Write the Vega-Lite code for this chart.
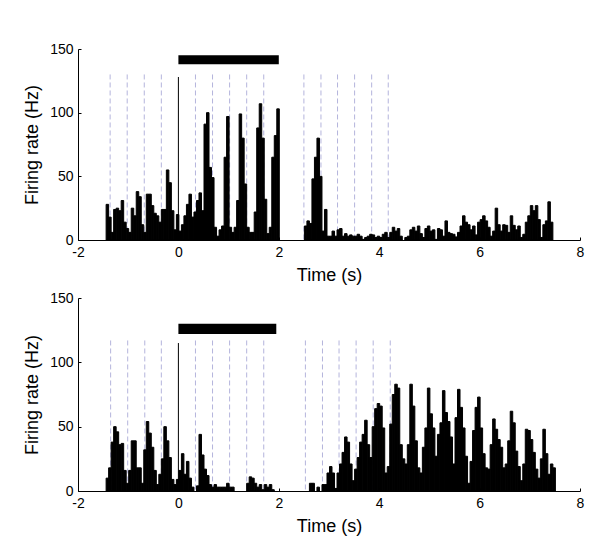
{
  "$schema": "https://vega.github.io/schema/vega-lite/v6.json",
  "padding": {"left": 23, "top": 42, "right": 10, "bottom": 10},
  "bounds": "flush",
  "spacing": 58,
  "config": {
    "view": {"stroke": null},
    "font": "Liberation Sans",
    "axis": {
      "grid": false, "domainColor": "black", "domainWidth": 1, "tickColor": "black", "tickSize": -3, "tickWidth": 1,
      "labelPadding": 8, "labelFontSize": 14, "labelColor": "black", "labelFont": "Liberation Sans", "labelFlush": false,
      "titleFontSize": 18, "titleFontWeight": "normal", "titleColor": "black", "titleFont": "Liberation Sans"
    },
    "axisX": {"titlePadding": 7},
    "axisY": {"titlePadding": 8}
  },
  "datasets": {
    "topBars": [
      {"t":-1.45,"r":28},{"t":-1.4,"r":18},{"t":-1.35,"r":6},{"t":-1.3,"r":24},{"t":-1.25,"r":25},{"t":-1.2,"r":23},{"t":-1.15,"r":31},{"t":-1.1,"r":14},{"t":-1.05,"r":9},{"t":-1.0,"r":6},
      {"t":-0.95,"r":25},{"t":-0.9,"r":19},{"t":-0.85,"r":38},{"t":-0.8,"r":34},{"t":-0.75,"r":12},{"t":-0.7,"r":6},{"t":-0.65,"r":36},{"t":-0.6,"r":36},{"t":-0.55,"r":27},{"t":-0.5,"r":21},
      {"t":-0.45,"r":19},{"t":-0.4,"r":14},{"t":-0.35,"r":24},{"t":-0.3,"r":24},{"t":-0.25,"r":55},{"t":-0.2,"r":45},{"t":-0.15,"r":23},{"t":-0.1,"r":8},{"t":-0.05,"r":20},
      {"t":0,"r":7},{"t":0.05,"r":12},{"t":0.1,"r":19},{"t":0.15,"r":28},{"t":0.2,"r":36},{"t":0.25,"r":18},{"t":0.3,"r":22},{"t":0.35,"r":31},{"t":0.4,"r":37},{"t":0.45,"r":23},
      {"t":0.5,"r":91},{"t":0.55,"r":100},{"t":0.6,"r":57},{"t":0.65,"r":49},{"t":0.7,"r":10},{"t":0.75,"r":3},{"t":0.8,"r":8},{"t":0.85,"r":11},{"t":0.9,"r":65},{"t":0.95,"r":97},
      {"t":1.0,"r":10},{"t":1.05,"r":6},{"t":1.1,"r":10},{"t":1.15,"r":31},{"t":1.2,"r":99},{"t":1.25,"r":80},{"t":1.3,"r":44},{"t":1.35,"r":10},{"t":1.4,"r":6},{"t":1.45,"r":6},
      {"t":1.5,"r":22},{"t":1.55,"r":88},{"t":1.6,"r":107},{"t":1.65,"r":80},{"t":1.7,"r":32},{"t":1.75,"r":5},{"t":1.8,"r":10},{"t":1.85,"r":65},{"t":1.9,"r":82},{"t":1.95,"r":103},
      {"t":2.5,"r":11},{"t":2.55,"r":15},{"t":2.6,"r":13},{"t":2.65,"r":48},{"t":2.7,"r":65},{"t":2.75,"r":80},{"t":2.8,"r":50},{"t":2.85,"r":7},{"t":2.9,"r":24},{"t":2.95,"r":3},
      {"t":3.0,"r":3},{"t":3.05,"r":7},{"t":3.1,"r":3},{"t":3.15,"r":8},{"t":3.2,"r":9},{"t":3.25,"r":3},{"t":3.3,"r":5},{"t":3.35,"r":3},{"t":3.4,"r":4},
      {"t":3.45,"r":3},{"t":3.5,"r":3},{"t":3.55,"r":4.5},{"t":3.6,"r":3},{"t":3.65,"r":0.5},{"t":3.7,"r":2},{"t":3.75,"r":3},{"t":3.8,"r":4.5},{"t":3.85,"r":4},{"t":3.9,"r":2},
      {"t":3.95,"r":3},{"t":4.0,"r":2},{"t":4.05,"r":4.5},{"t":4.1,"r":6},{"t":4.15,"r":2},{"t":4.2,"r":6},{"t":4.25,"r":10},{"t":4.3,"r":7},{"t":4.35,"r":9},{"t":4.4,"r":3},
      {"t":4.5,"r":2},{"t":4.55,"r":3},{"t":4.6,"r":8},{"t":4.65,"r":10},{"t":4.7,"r":7},{"t":4.75,"r":11},{"t":4.8,"r":5},{"t":4.85,"r":2},{"t":4.9,"r":9},
      {"t":4.95,"r":11},{"t":5.0,"r":7},{"t":5.05,"r":8},{"t":5.1,"r":0.5},{"t":5.15,"r":9},{"t":5.2,"r":8},{"t":5.25,"r":3},{"t":5.3,"r":15},{"t":5.35,"r":6},{"t":5.4,"r":5},
      {"t":5.45,"r":4.5},{"t":5.5,"r":2.4},{"t":5.55,"r":6},{"t":5.6,"r":11},{"t":5.65,"r":19},{"t":5.7,"r":14},{"t":5.75,"r":12},{"t":5.8,"r":8},{"t":5.85,"r":11},{"t":5.9,"r":4},
      {"t":5.95,"r":14},{"t":6.0,"r":16},{"t":6.05,"r":19},{"t":6.1,"r":15},{"t":6.15,"r":10},{"t":6.2,"r":3},{"t":6.25,"r":7},{"t":6.3,"r":25},{"t":6.35,"r":12},{"t":6.4,"r":7},
      {"t":6.45,"r":12},{"t":6.5,"r":11.5},{"t":6.55,"r":6},{"t":6.6,"r":19},{"t":6.65,"r":11.5},{"t":6.7,"r":8},{"t":6.75,"r":11},{"t":6.8,"r":2},{"t":6.85,"r":4.5},{"t":6.9,"r":14},
      {"t":6.95,"r":19},{"t":7.0,"r":27},{"t":7.05,"r":23},{"t":7.1,"r":27},{"t":7.15,"r":16},{"t":7.2,"r":2},{"t":7.25,"r":12},{"t":7.3,"r":15},{"t":7.35,"r":30},{"t":7.4,"r":14}
    ],
    "bottomBars": [
      {"t":-1.45,"r":10},{"t":-1.4,"r":18},{"t":-1.35,"r":38},{"t":-1.3,"r":50},{"t":-1.25,"r":46},{"t":-1.2,"r":36},{"t":-1.15,"r":37},{"t":-1.1,"r":16},{"t":-1.05,"r":6},{"t":-1.0,"r":16},
      {"t":-0.95,"r":39},{"t":-0.9,"r":39},{"t":-0.85,"r":18},{"t":-0.8,"r":18},{"t":-0.75,"r":6},{"t":-0.7,"r":32},{"t":-0.65,"r":54},{"t":-0.6,"r":45},{"t":-0.55,"r":34},{"t":-0.5,"r":16},
      {"t":-0.45,"r":5},{"t":-0.4,"r":13},{"t":-0.35,"r":25},{"t":-0.3,"r":50},{"t":-0.25,"r":39},{"t":-0.2,"r":26},{"t":-0.15,"r":9},{"t":-0.1,"r":5},{"t":-0.05,"r":9},
      {"t":0,"r":16},{"t":0.05,"r":29},{"t":0.1,"r":13},{"t":0.15,"r":23},{"t":0.2,"r":10},{"t":0.25,"r":3},{"t":0.35,"r":4},{"t":0.4,"r":44},{"t":0.45,"r":28},{"t":0.5,"r":17},
      {"t":0.55,"r":12},{"t":0.6,"r":5},{"t":0.65,"r":3},{"t":0.7,"r":5},{"t":0.75,"r":3},{"t":0.8,"r":3},{"t":0.85,"r":3},{"t":0.9,"r":3},{"t":0.95,"r":6},{"t":1.0,"r":3},{"t":1.05,"r":3},
      {"t":1.35,"r":6},{"t":1.4,"r":11},{"t":1.45,"r":10},{"t":1.5,"r":6},{"t":1.55,"r":3},{"t":1.6,"r":5},{"t":1.65,"r":1},{"t":1.7,"r":5},{"t":1.75,"r":3},{"t":1.8,"r":5},{"t":1.85,"r":1},
      {"t":2.6,"r":6},{"t":2.65,"r":6},{"t":2.75,"r":3},{"t":2.85,"r":5},{"t":2.9,"r":5},
      {"t":2.95,"r":14},{"t":3.0,"r":19},{"t":3.05,"r":14},{"t":3.1,"r":2},{"t":3.15,"r":14},{"t":3.2,"r":21},{"t":3.25,"r":30},{"t":3.3,"r":42},{"t":3.35,"r":38},{"t":3.4,"r":21},
      {"t":3.45,"r":8},{"t":3.5,"r":17},{"t":3.55,"r":26},{"t":3.6,"r":38},{"t":3.65,"r":44},{"t":3.7,"r":55},{"t":3.75,"r":36},{"t":3.8,"r":26},{"t":3.85,"r":50},{"t":3.9,"r":64},
      {"t":3.95,"r":68},{"t":4.0,"r":66},{"t":4.05,"r":49},{"t":4.1,"r":14},{"t":4.15,"r":19},{"t":4.2,"r":52},{"t":4.25,"r":75},{"t":4.3,"r":83},{"t":4.35,"r":80},{"t":4.4,"r":36},
      {"t":4.45,"r":25},{"t":4.5,"r":21},{"t":4.55,"r":36},{"t":4.6,"r":83},{"t":4.65,"r":66},{"t":4.7,"r":39},{"t":4.75,"r":18},{"t":4.8,"r":14},{"t":4.85,"r":34},{"t":4.9,"r":49},
      {"t":4.95,"r":80},{"t":5.0,"r":60},{"t":5.05,"r":49},{"t":5.1,"r":27},{"t":5.15,"r":44},{"t":5.2,"r":53},{"t":5.25,"r":78},{"t":5.3,"r":61},{"t":5.35,"r":54},{"t":5.4,"r":42},
      {"t":5.45,"r":21},{"t":5.5,"r":57},{"t":5.55,"r":79},{"t":5.6,"r":65},{"t":5.65,"r":49},{"t":5.7,"r":27},{"t":5.75,"r":6},{"t":5.8,"r":23},{"t":5.85,"r":47},{"t":5.9,"r":65},
      {"t":5.95,"r":73},{"t":6.0,"r":49},{"t":6.05,"r":29},{"t":6.1,"r":18},{"t":6.15,"r":17},{"t":6.2,"r":36},{"t":6.25,"r":56},{"t":6.3,"r":48},{"t":6.35,"r":40},{"t":6.4,"r":34},
      {"t":6.45,"r":18},{"t":6.5,"r":21},{"t":6.55,"r":39},{"t":6.6,"r":62},{"t":6.65,"r":53},{"t":6.7,"r":31},{"t":6.75,"r":19},{"t":6.8,"r":8},{"t":6.85,"r":21},{"t":6.9,"r":48},
      {"t":6.95,"r":47},{"t":7.0,"r":40},{"t":7.05,"r":30},{"t":7.1,"r":17},{"t":7.15,"r":10},{"t":7.2,"r":25},{"t":7.25,"r":48},{"t":7.3,"r":29},{"t":7.35,"r":13},{"t":7.4,"r":21},{"t":7.45,"r":18}
    ],
    "topDash": [
      {"t":-1.36,"top":130},{"t":-1.02,"top":130},{"t":-0.68,"top":130},{"t":-0.34,"top":130},{"t":0.34,"top":130},{"t":0.68,"top":130},{"t":1.02,"top":130},{"t":1.36,"top":130},{"t":1.7,"top":130},
      {"t":2.5,"top":130},{"t":2.84,"top":130},{"t":3.17,"top":130},{"t":3.51,"top":130},{"t":3.85,"top":130},{"t":4.18,"top":130}
    ],
    "bottomDash": [
      {"t":-1.35,"top":117},{"t":-1.01,"top":117},{"t":-0.67,"top":117},{"t":-0.34,"top":117},{"t":0.34,"top":117},{"t":0.68,"top":117},{"t":1.02,"top":117},{"t":1.36,"top":117},{"t":1.7,"top":117},
      {"t":2.53,"top":117},{"t":2.87,"top":117},{"t":3.2,"top":117},{"t":3.54,"top":117},{"t":3.88,"top":117},{"t":4.22,"top":117}
    ],
    "topOnset": [{"t":0,"top":128}],
    "bottomOnset": [{"t":0,"top":115}],
    "topStim": [{"t":0,"t2":2,"lo":138,"hi":145}],
    "bottomStim": [{"t":0,"t2":1.95,"lo":122,"hi":130}]
  },
  "vconcat": [
    {
      "width": 502, "height": 191,
      "layer": [
        {
          "data": {"name": "topDash"},
          "mark": {"type": "rule", "color": "#b4b4dc", "strokeDash": [5, 3], "strokeWidth": 1},
          "encoding": {
            "x": {"field": "t", "type": "quantitative", "title": "Time (s)", "scale": {"domain": [-2, 8], "nice": false, "padding": 0}, "axis": {"values": [-2, 0, 2, 4, 6, 8], "labelExpr": "'' + datum.value"}},
            "y": {"field": "top", "type": "quantitative", "title": "Firing rate (Hz)", "scale": {"domain": [0, 150], "nice": false, "padding": 0}, "axis": {"values": [0, 50, 100, 150]}},
            "y2": {"datum": 0}
          }
        },
        {
          "data": {"name": "topOnset"},
          "mark": {"type": "rule", "color": "black", "strokeWidth": 1},
          "encoding": {
            "x": {"field": "t", "type": "quantitative", "title": "Time (s)"},
            "y": {"field": "top", "type": "quantitative", "title": "Firing rate (Hz)"},
            "y2": {"datum": 0}
          }
        },
        {
          "data": {"name": "topBars"},
          "mark": {"type": "bar", "color": "black", "stroke": "black", "strokeWidth": 1, "binSpacing": 0},
          "encoding": {
            "x": {"field": "t", "type": "quantitative", "bin": {"binned": true, "step": 0.05}, "title": "Time (s)"},
            "y": {"field": "r", "type": "quantitative", "title": "Firing rate (Hz)"}
          }
        },
        {
          "data": {"name": "topStim"},
          "mark": {"type": "rect", "color": "black"},
          "encoding": {
            "x": {"field": "t", "type": "quantitative", "title": "Time (s)"},
            "x2": {"field": "t2"},
            "y": {"field": "lo", "type": "quantitative", "title": "Firing rate (Hz)"},
            "y2": {"field": "hi"}
          }
        }
      ]
    },
    {
      "width": 502, "height": 193,
      "layer": [
        {
          "data": {"name": "bottomDash"},
          "mark": {"type": "rule", "color": "#b4b4dc", "strokeDash": [5, 3], "strokeWidth": 1},
          "encoding": {
            "x": {"field": "t", "type": "quantitative", "title": "Time (s)", "scale": {"domain": [-2, 8], "nice": false, "padding": 0}, "axis": {"values": [-2, 0, 2, 4, 6, 8], "labelExpr": "'' + datum.value"}},
            "y": {"field": "top", "type": "quantitative", "title": "Firing rate (Hz)", "scale": {"domain": [0, 150], "nice": false, "padding": 0}, "axis": {"values": [0, 50, 100, 150]}},
            "y2": {"datum": 0}
          }
        },
        {
          "data": {"name": "bottomOnset"},
          "mark": {"type": "rule", "color": "black", "strokeWidth": 1},
          "encoding": {
            "x": {"field": "t", "type": "quantitative", "title": "Time (s)"},
            "y": {"field": "top", "type": "quantitative", "title": "Firing rate (Hz)"},
            "y2": {"datum": 0}
          }
        },
        {
          "data": {"name": "bottomBars"},
          "mark": {"type": "bar", "color": "black", "stroke": "black", "strokeWidth": 1, "binSpacing": 0},
          "encoding": {
            "x": {"field": "t", "type": "quantitative", "bin": {"binned": true, "step": 0.05}, "title": "Time (s)"},
            "y": {"field": "r", "type": "quantitative", "title": "Firing rate (Hz)"}
          }
        },
        {
          "data": {"name": "bottomStim"},
          "mark": {"type": "rect", "color": "black"},
          "encoding": {
            "x": {"field": "t", "type": "quantitative", "title": "Time (s)"},
            "x2": {"field": "t2"},
            "y": {"field": "lo", "type": "quantitative", "title": "Firing rate (Hz)"},
            "y2": {"field": "hi"}
          }
        }
      ]
    }
  ]
}
